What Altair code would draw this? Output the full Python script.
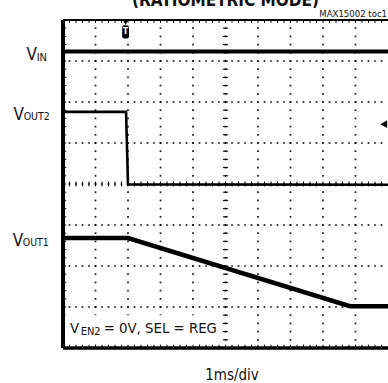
import altair as alt
import pandas as pd

# Scope screen: 10 horizontal x 8 vertical divisions, 1 ms/div
X_DIVS = 10
Y_DIVS = 8
MINOR = 5  # minor marks per division

# Traces, read in screen divisions (time, level)
vin_t = [0.0, 10.0]
vin_v = [7.23, 7.23]
vout2_t = [0.0, 1.94, 2.0, 10.0]
vout2_v = [5.76, 5.76, 3.99, 3.98]
vout1_t = [0.0, 2.0, 8.83, 10.0]
vout1_v = [2.68, 2.68, 1.02, 1.02]

FONT = "DejaVu Sans Condensed"

xs = alt.Scale(domain=[0, X_DIVS], nice=False, zero=False)
ys = alt.Scale(domain=[0, Y_DIVS], nice=False, zero=False)


def X(field="x"):
    return alt.X(f"{field}:Q", scale=xs, axis=None)


def Y(field="y"):
    return alt.Y(f"{field}:Q", scale=ys, axis=None)


# dotted graticule: a dot at every minor step along each major line
dots = []
for gx in range(1, X_DIVS):
    for k in range(1, Y_DIVS * MINOR):
        dots.append({"x": gx, "y": k / MINOR})
for gy in range(1, Y_DIVS):
    for k in range(1, X_DIVS * MINOR):
        dots.append({"x": k / MINOR, "y": gy})
grid = alt.Chart(pd.DataFrame(dots)).mark_square(size=3, color="black", opacity=0.9).encode(x=X(), y=Y())

# small ticks on the centre cross and on the frame edges
ticks = []
for k in range(1, Y_DIVS * MINOR):
    v = k / MINOR
    ticks.append({"x": 5 - 0.08, "x2": 5 + 0.08, "y": v, "y2": v})
    ticks.append({"x": 0, "x2": 0.1, "y": v, "y2": v})
for k in range(1, X_DIVS * MINOR):
    v = k / MINOR
    ticks.append({"x": v, "x2": v, "y": 4 - 0.06, "y2": 4 + 0.06})
    ticks.append({"x": v, "x2": v, "y": 0, "y2": 0.08})
    ticks.append({"x": v, "x2": v, "y": 8 - 0.07, "y2": 8})
tick_layer = alt.Chart(pd.DataFrame(ticks)).mark_rule(color="black", strokeWidth=1).encode(
    x=X(), x2="x2:Q", y=Y(), y2="y2:Q")

# frame: left, bottom and top edges
frame_df = pd.DataFrame([
    {"x": 0, "x2": 0, "y": 0, "y2": 8, "w": 4},
    {"x": 0, "x2": 10, "y": 0, "y2": 0, "w": 3.5},
    {"x": 0, "x2": 10, "y": 8, "y2": 8, "w": 2},
])
frame = alt.Chart(frame_df).mark_rule(color="black").encode(
    x=X(), x2="x2:Q", y=Y(), y2="y2:Q",
    strokeWidth=alt.StrokeWidth("w:Q", scale=None))


def trace(t, v, width):
    df = pd.DataFrame({"x": t, "y": v})
    return alt.Chart(df).mark_line(color="black", strokeWidth=width, strokeJoin="miter",
                                   interpolate="linear").encode(x=X(), y=Y())


vin = trace(vin_t, vin_v, 4)
vout2 = trace(vout2_t, vout2_v, 2.6)
vout1 = trace(vout1_t, vout1_v, 4.5)

# condition box in the lower-left corner
box = alt.Chart(pd.DataFrame([{"x": 0.05, "x2": 4.8, "y": 0.1, "y2": 0.8}])).mark_rect(
    color="white").encode(x=X(), x2="x2:Q", y=Y(), y2="y2:Q")

# trigger marker and channel ground arrow
trig_box = alt.Chart(pd.DataFrame([{"x": 1.82, "x2": 2.03, "y": 7.55, "y2": 7.87}])).mark_rect(
    color="black", cornerRadius=2).encode(x=X(), x2="x2:Q", y=Y(), y2="y2:Q")
trig_t = alt.Chart(pd.DataFrame([{"x": 1.925, "y": 7.71, "s": "T"}])).mark_text(
    color="white", font="DejaVu Sans", fontWeight="bold", fontSize=8, baseline="middle").encode(
    x=X(), y=Y(), text="s:N")
trig_tri = alt.Chart(pd.DataFrame([{"x": 1.925, "y": 7.93}])).mark_point(
    shape="triangle-down", filled=True, color="black", opacity=1, size=22).encode(x=X(), y=Y())
gnd = alt.Chart(pd.DataFrame([{"x": 9.87, "y": 5.46}])).mark_point(
    shape="triangle-left", filled=True, color="black", opacity=1, size=60).encode(x=X(), y=Y())

# text labels: (x, y, text, size, align, weight)
labels = pd.DataFrame([
    {"x": -1.12, "y": 7.03, "s": "V", "size": 17, "align": "left", "w": "normal"},
    {"x": -0.81, "y": 7.00, "s": "IN", "size": 11, "align": "left", "w": "normal"},
    {"x": -1.52, "y": 5.57, "s": "V", "size": 17, "align": "left", "w": "normal"},
    {"x": -1.21, "y": 5.57, "s": "OUT2", "size": 10.5, "align": "left", "w": "normal"},
    {"x": -1.55, "y": 2.49, "s": "V", "size": 17, "align": "left", "w": "normal"},
    {"x": -1.24, "y": 2.49, "s": "OUT1", "size": 10.5, "align": "left", "w": "normal"},
    {"x": 0.215, "y": 0.373, "s": "V", "size": 14.8, "align": "left", "w": "normal"},
    {"x": 0.545, "y": 0.317, "s": "EN2", "size": 11, "align": "left", "w": "normal"},
    {"x": 1.25, "y": 0.373, "s": " = 0V, SEL = REG", "size": 14.8, "align": "left", "w": "normal"},
    {"x": 5.0, "y": 8.35, "s": "(RATIOMETRIC MODE)", "size": 17, "align": "center", "w": "bold"},
    {"x": 9.97, "y": 8.085, "s": "MAX15002 toc1", "size": 9.5, "align": "right", "w": "normal"},
    {"x": 5.2, "y": -0.78, "s": "1ms/div", "size": 15, "align": "center", "w": "normal"},
])
text_layers = []
for _, r in labels.iterrows():
    text_layers.append(
        alt.Chart(pd.DataFrame([r.to_dict()])).mark_text(
            font=FONT, fontSize=r["size"], align=r["align"], baseline="alphabetic",
            fontWeight=r["w"], color="#111111").encode(x=X(), y=Y(), text="s:N"))

chart = alt.layer(
    grid, tick_layer, box, vin, vout2, vout1, frame, trig_tri, trig_box, trig_t, gnd, *text_layers
).properties(
    width=325, height=328,
    padding={"left": 63, "top": 20, "right": 0, "bottom": 35},
    autosize=alt.AutoSizeParams(type="none"),
).configure_view(stroke=None).configure(background="white")

chart.save("out.html", embed_options={"renderer": "svg", "actions": False})
